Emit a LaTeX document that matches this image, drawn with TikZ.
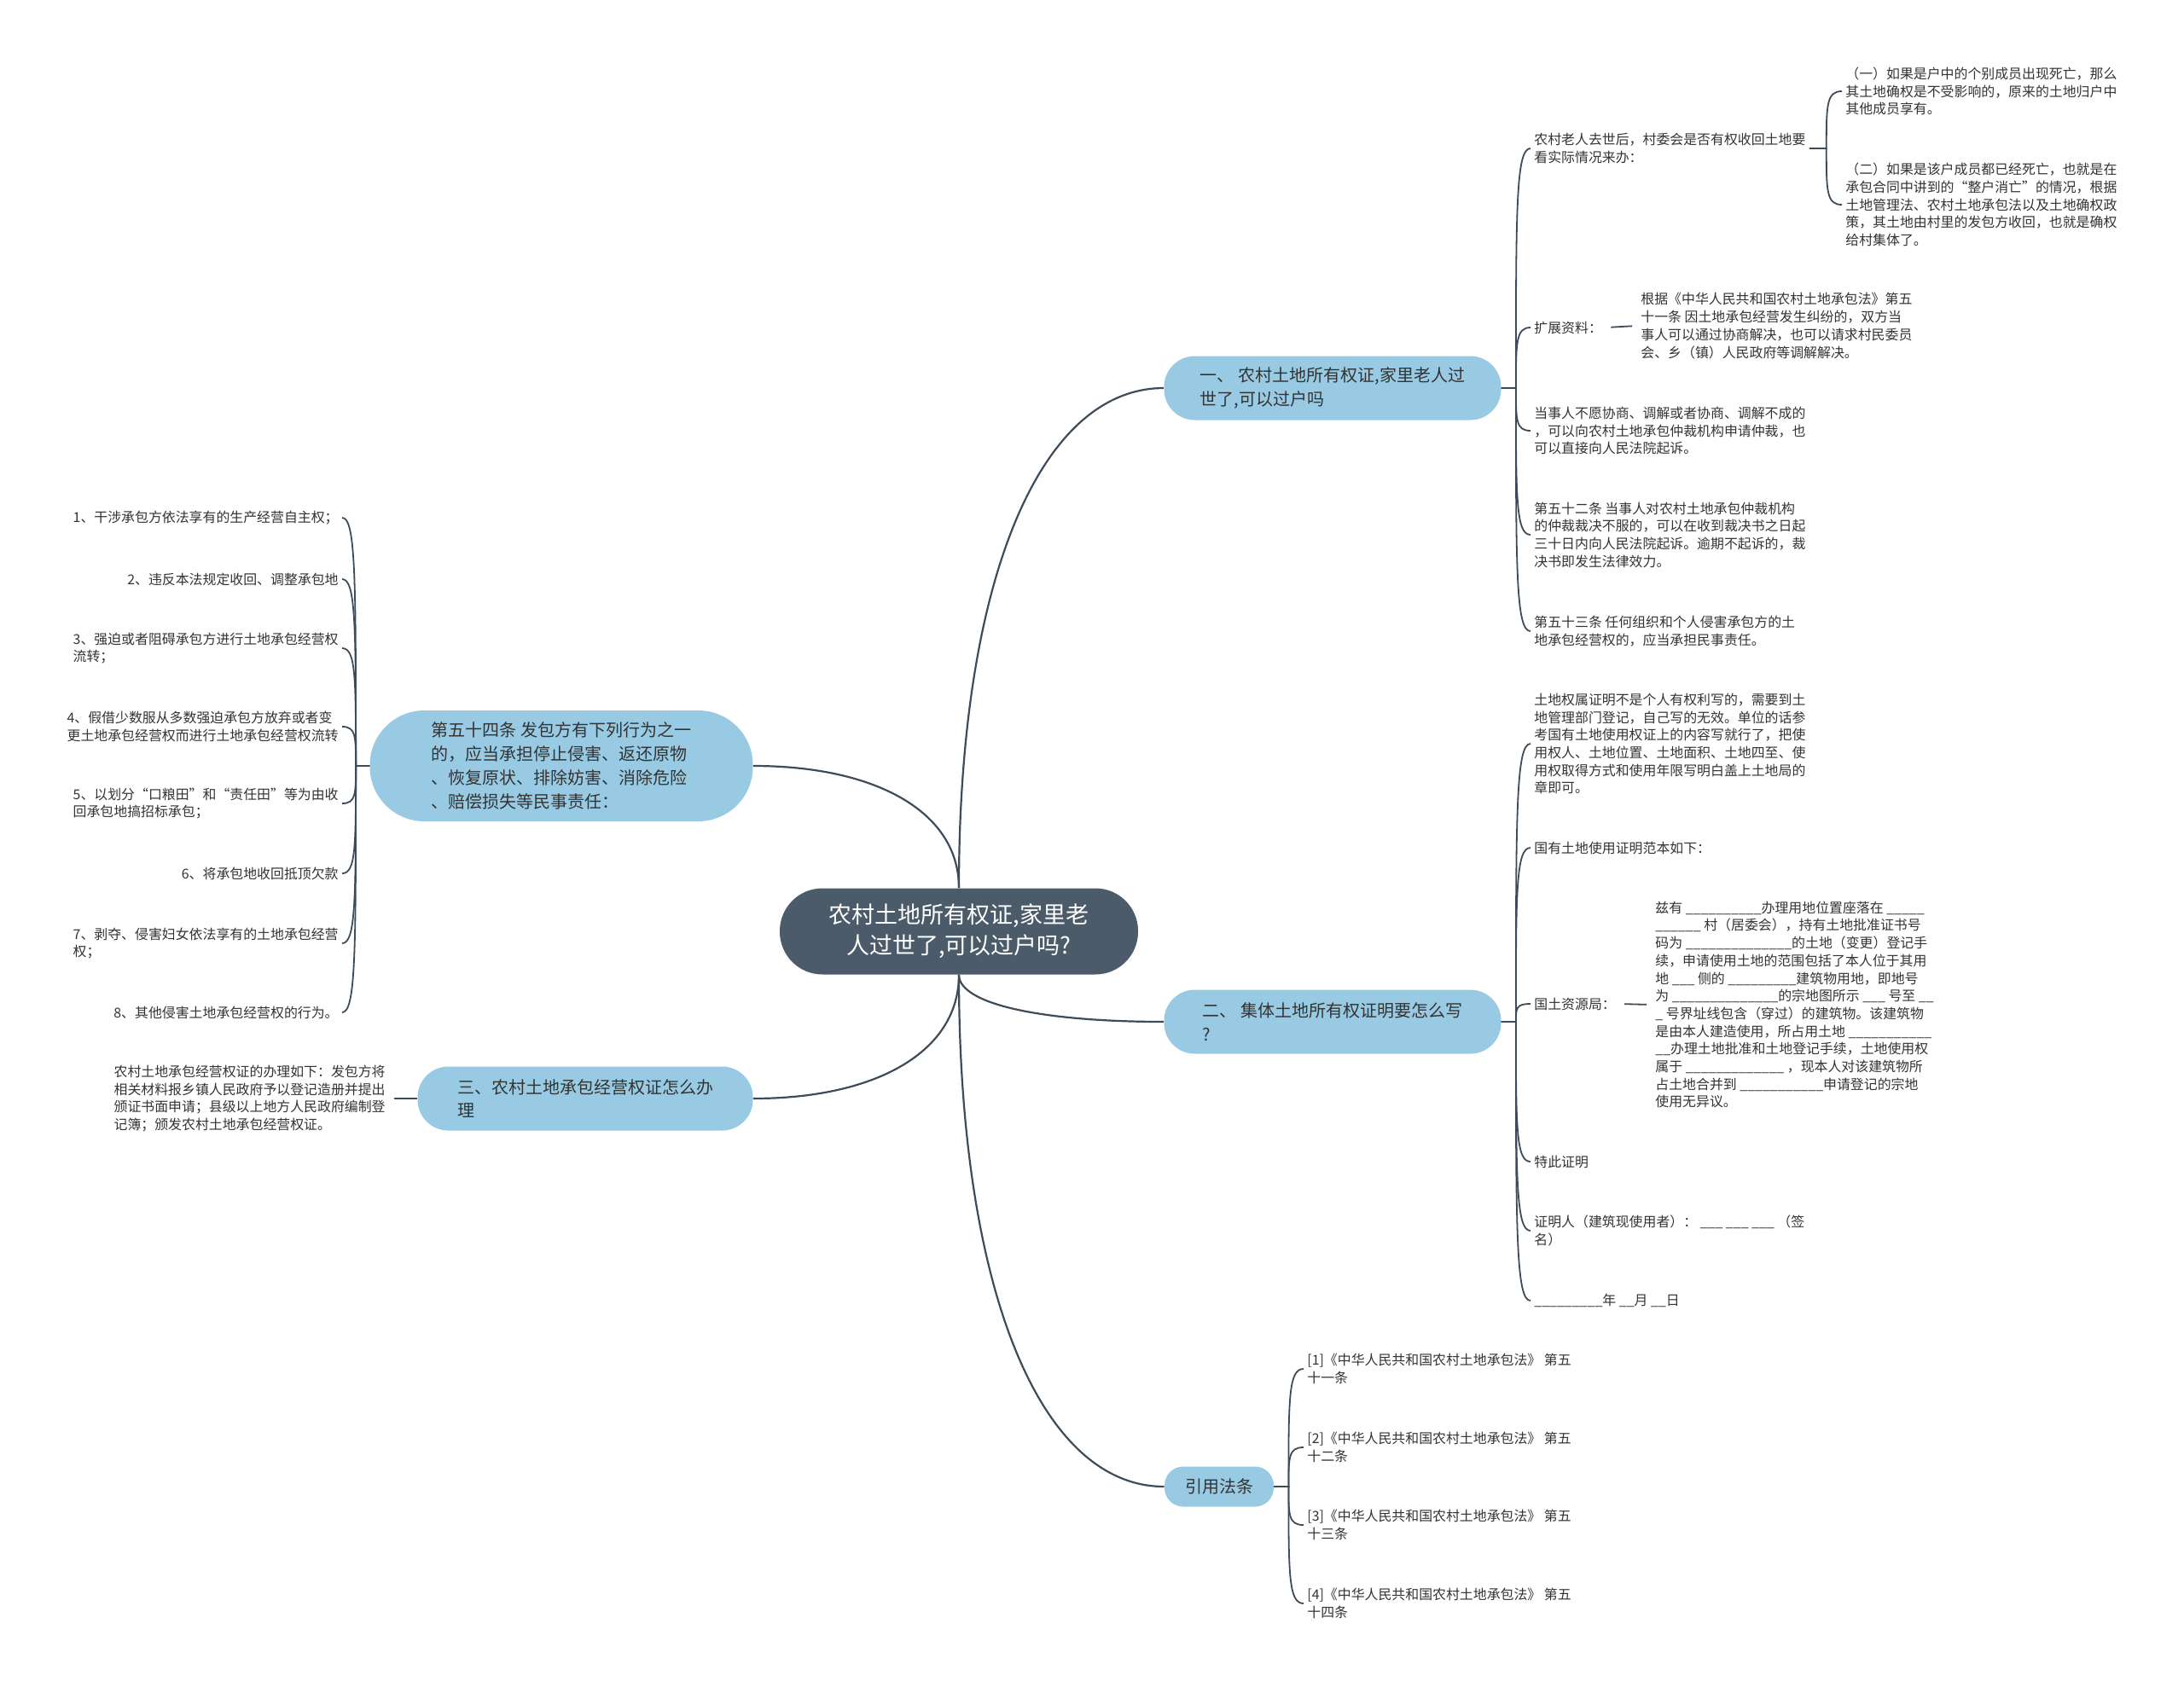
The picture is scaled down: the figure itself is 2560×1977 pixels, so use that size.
\documentclass[tikz,border=0pt]{standalone}
\usepackage{fontspec}
\setmainfont{Noto Sans CJK SC}
\usetikzlibrary{calc}
\definecolor{hubslate}{HTML}{4B5B6A}
\definecolor{topicblue}{HTML}{98CBE3}
\definecolor{wire}{HTML}{3E4C5A}
\definecolor{ink}{HTML}{333333}
\newcommand{\blanks}[1]{\foreach\k in {1,...,#1}{\_}}
\tikzset{hub/.style={fill=hubslate,text=white,rounded corners=25pt,minimum width=210pt,minimum height=50.5pt,align=center,font=\fontsize{13.5}{18}\selectfont},
  topic/.style={fill=topicblue,text=ink,rounded corners=18pt,minimum width=197.5pt,minimum height=37.5pt,align=left,font=\fontsize{10}{13.9}\selectfont},
  leaf/.style={text=ink,align=left,inner sep=2pt,font=\fontsize{7.95}{10.35}\selectfont},
  trunk/.style={draw=wire,line width=1.1pt,to path={let \p1=(\tikztostart),\p2=(\tikztotarget) in .. controls (\x1,{\y1+0.62*(\y2-\y1)}) and ({\x2-0.6*(\x2-\x1)},\y2) .. (\tikztotarget)}},
  twig/.style={draw=wire,line width=0.9pt,to path={let \p1=(\tikztostart),\p2=(\tikztotarget) in -- ++(#1,0pt) .. controls ({\x1+(#1)},{\y1+0.75*(\y2-\y1)}) and ({\x1+(#1)},\y2) .. (\tikztotarget)}},
  twig/.default=8.5pt,
  stub/.style={draw=wire,line width=0.9pt,shorten <=3pt,shorten >=3pt}}
\begin{document}
\begin{tikzpicture}[x=0.5pt,y=-0.5pt]
\useasboundingbox (0,0) rectangle (2560,1977);
\fill[white] (0,0) rectangle (2560,1977);
\node[hub] (root) at (1124,1092) {农村土地所有权证,家里老\\人过世了,可以过户吗?};
\node[topic] (b1) at (1562,455) {一、 农村土地所有权证,家里老人过\\世了,可以过户吗};
\node[topic] (b2) at (1562,1198) {二、 集体土地所有权证明要怎么写\\?};
\node[topic,minimum width=64pt,minimum height=23.5pt,rounded corners=11pt] (b3) at (1429,1743) {引用法条};
\node[topic,minimum width=224.5pt,minimum height=65pt,rounded corners=32pt] (b4) at (658,898) {第五十四条 发包方有下列行为之一\\的，应当承担停止侵害、返还原物\\、恢复原状、排除妨害、消除危险\\、赔偿损失等民事责任：};
\node[topic,minimum width=196.5pt] (b5) at (686,1288) {三、农村土地承包经营权证怎么办\\理};

\node[leaf,anchor=west] (c11) at (1794,174) {农村老人去世后，村委会是否有权收回土地要\\看实际情况来办：};
\node[leaf,anchor=west] (c111) at (2159,107) {（一）如果是户中的个别成员出现死亡，那么\\其土地确权是不受影响的，原来的土地归户中\\其他成员享有。};
\node[leaf,anchor=west] (c112) at (2159,240) {（二）如果是该户成员都已经死亡，也就是在\\承包合同中讲到的“整户消亡”的情况，根据\\土地管理法、农村土地承包法以及土地确权政\\策，其土地由村里的发包方收回，也就是确权\\给村集体了。};
\node[leaf,anchor=west] (c12) at (1794,384) {扩展资料：};
\node[leaf,anchor=west] (c121) at (1919,382) {根据《中华人民共和国农村土地承包法》第五\\十一条 因土地承包经营发生纠纷的，双方当\\事人可以通过协商解决，也可以请求村民委员\\会、乡（镇）人民政府等调解解决。};
\node[leaf,anchor=west] (c13) at (1794,505) {当事人不愿协商、调解或者协商、调解不成的\\，可以向农村土地承包仲裁机构申请仲裁，也\\可以直接向人民法院起诉。};
\node[leaf,anchor=west] (c14) at (1794,627) {第五十二条 当事人对农村土地承包仲裁机构\\的仲裁裁决不服的，可以在收到裁决书之日起\\三十日内向人民法院起诉。逾期不起诉的，裁\\决书即发生法律效力。};
\node[leaf,anchor=west] (c15) at (1794,740) {第五十三条 任何组织和个人侵害承包方的土\\地承包经营权的，应当承担民事责任。};

\node[leaf,anchor=west] (c21) at (1794,872) {土地权属证明不是个人有权利写的，需要到土\\地管理部门登记，自己写的无效。单位的话参\\考国有土地使用权证上的内容写就行了，把使\\用权人、土地位置、土地面积、土地四至、使\\用权取得方式和使用年限写明白盖上土地局的\\章即可。};
\node[leaf,anchor=west] (c22) at (1794,994) {国有土地使用证明范本如下：};
\node[leaf,anchor=west] (c23) at (1794,1177) {国土资源局：};
\node[leaf,anchor=west] (c231) at (1936,1178) {兹有 \blanks{10}办理用地位置座落在 \blanks{5}\\\blanks{6} 村（居委会），持有土地批准证书号\\码为 \blanks{14}的土地（变更）登记手\\续，申请使用土地的范围包括了本人位于其用\\地 \blanks{3} 侧的 \blanks{9}建筑物用地，即地号\\为 \blanks{14}的宗地图所示 \blanks{3} 号至 \blanks{2}\\\blanks{1} 号界址线包含（穿过）的建筑物。该建筑物\\是由本人建造使用，所占用土地 \blanks{11}\\\blanks{2}办理土地批准和土地登记手续，土地使用权\\属于 \blanks{13} ，现本人对该建筑物所\\占土地合并到 \blanks{11}申请登记的宗地\\使用无异议。};
\node[leaf,anchor=west] (c24) at (1794,1362) {特此证明};
\node[leaf,anchor=west] (c25) at (1794,1443) {证明人（建筑现使用者）： \blanks{3} \blanks{3} \blanks{3} （签\\名）};
\node[leaf,anchor=west] (c26) at (1794,1525) {\blanks{9}年 \blanks{2}月 \blanks{2}日};

\node[leaf,anchor=west] (f1) at (1528,1605) {[1]《中华人民共和国农村土地承包法》 第五\\十一条};
\node[leaf,anchor=west] (f2) at (1528,1697) {[2]《中华人民共和国农村土地承包法》 第五\\十二条};
\node[leaf,anchor=west] (f3) at (1528,1788) {[3]《中华人民共和国农村土地承包法》 第五\\十三条};
\node[leaf,anchor=west] (f4) at (1528,1880) {[4]《中华人民共和国农村土地承包法》 第五\\十四条};

\node[leaf,anchor=east] (d1) at (401,607) {1、干涉承包方依法享有的生产经营自主权；};
\node[leaf,anchor=east] (d2) at (401,679) {2、违反本法规定收回、调整承包地};
\node[leaf,anchor=east] (d3) at (401,760) {3、强迫或者阻碍承包方进行土地承包经营权\\流转；};
\node[leaf,anchor=east] (d4) at (401,852) {4、假借少数服从多数强迫承包方放弃或者变\\更土地承包经营权而进行土地承包经营权流转};
\node[leaf,anchor=east] (d5) at (401,942) {5、以划分“口粮田”和“责任田”等为由收\\回承包地搞招标承包；};
\node[leaf,anchor=east] (d6) at (401,1024) {6、将承包地收回抵顶欠款};
\node[leaf,anchor=east] (d7) at (401,1106) {7、剥夺、侵害妇女依法享有的土地承包经营\\权；};
\node[leaf,anchor=east] (d8) at (401,1187) {8、其他侵害土地承包经营权的行为。};

\node[leaf,anchor=east] (e1) at (456,1288) {农村土地承包经营权证的办理如下：发包方将\\相关材料报乡镇人民政府予以登记造册并提出\\颁证书面申请；县级以上地方人民政府编制登\\记簿；颁发农村土地承包经营权证。};

\draw[trunk] (root.north) to (b1.west);
\draw[trunk] (root.north) to (b4.east);
\draw[trunk] (root.south) to (b5.east);
\draw[trunk] (root.south) to (b2.west);
\draw[trunk] (root.south) to (b3.west);
\foreach \lf in {c11,c12,c13,c14,c15} \draw[twig] (b1.east) to (\lf.west);
\foreach \lf in {c111,c112} \draw[twig=10pt] (c11.east) to (\lf.west);
\foreach \lf in {c21,c22,c23,c24,c25,c26} \draw[twig] (b2.east) to (\lf.west);
\foreach \i in {1,...,4} \draw[twig] (b3.east) to (f\i.west);
\foreach \i in {1,...,8} \draw[twig=-8pt] (b4.west) to (d\i.east);
\draw[stub] (c12.east) -- (c121.west);
\draw[stub] (c23.east) -- (c231.west);
\draw[stub,shorten <=0pt] (b5.west) -- (e1.east);
\end{tikzpicture}
\end{document}
